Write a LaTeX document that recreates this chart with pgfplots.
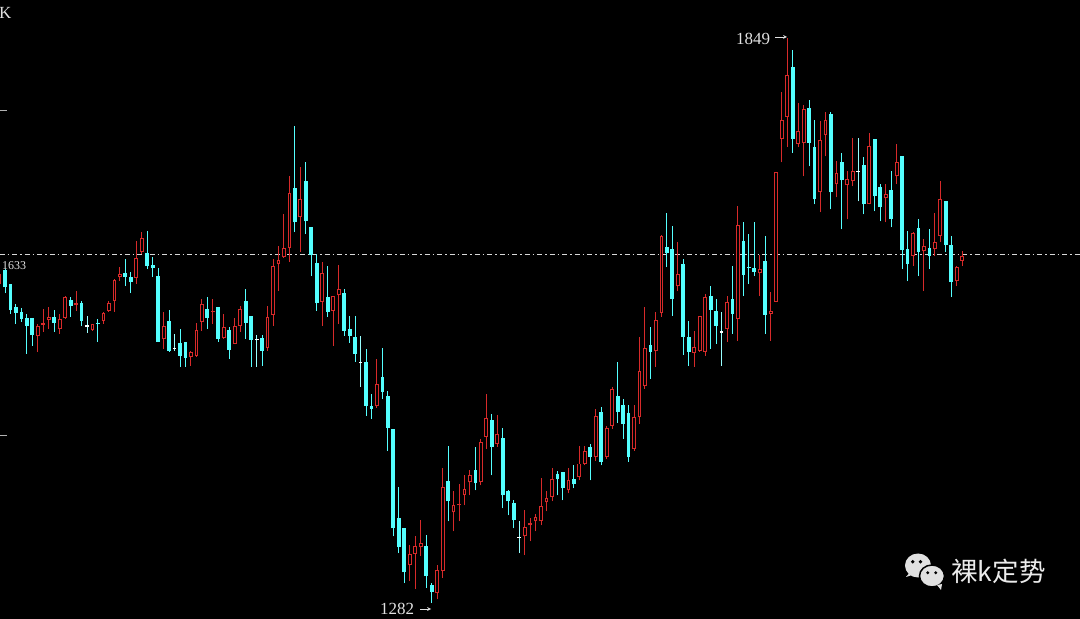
\documentclass[border=0pt]{standalone}
\usepackage{fontspec}
\setmainfont{Liberation Serif}
\newfontfamily\cjk{Noto Sans CJK SC}
\usepackage{pgfplots}
\usepackage{pgfplotstable}
\pgfplotsset{compat=1.18}
\definecolor{kcyan}{RGB}{84,255,255}
\definecolor{kred}{RGB}{215,42,42}
\definecolor{ktext}{RGB}{225,225,225}
\pgfplotstableread{
i o h l c
-1 1602 1614 1600 1612
0 1616 1617 1593 1599
1 1602 1602 1572 1576
2 1579 1582 1562 1573
3 1574 1578 1564 1567
4 1568 1572 1532 1560
5 1568 1568 1540 1551
6 1550 1562 1534 1560
7 1561 1577 1554 1563
8 1566 1579 1557 1569
9 1569 1576 1554 1563
10 1557 1572 1552 1567
11 1568 1590 1567 1589
12 1586 1589 1569 1580
13 1581 1595 1575 1583
14 1583 1585 1560 1565
15 1560 1570 1553 1560
16 1556 1562 1555 1562
17 1563 1567 1544 1562
18 1565 1574 1562 1573
19 1575 1585 1574 1583
20 1585 1607 1574 1606
21 1609 1619 1605 1612
22 1613 1627 1600 1609
23 1609 1614 1593 1604
24 1608 1645 1602 1628
25 1634 1654 1632 1648
26 1633 1655 1617 1620
27 1621 1629 1609 1618
28 1610 1618 1544 1544
29 1547 1574 1537 1560
30 1565 1576 1534 1535
31 1537 1552 1535 1537
32 1543 1557 1519 1530
33 1544 1544 1519 1528
34 1529 1535 1520 1534
35 1530 1563 1529 1556
36 1564 1587 1555 1582
37 1577 1589 1557 1568
38 1574 1587 1562 1575
39 1579 1579 1544 1547
40 1548 1572 1547 1559
41 1556 1559 1527 1536
42 1542 1568 1542 1560
43 1560 1580 1554 1577
44 1585 1597 1547 1563
45 1570 1570 1519 1546
46 1546 1551 1519 1546
47 1548 1551 1520 1535
48 1538 1580 1535 1569
49 1571 1627 1560 1620
50 1622 1640 1595 1626
51 1629 1672 1628 1638
52 1638 1710 1624 1693
53 1698 1761 1654 1664
54 1669 1719 1634 1687
55 1705 1724 1652 1665
56 1659 1659 1610 1631
57 1623 1632 1575 1583
58 1584 1624 1560 1613
59 1589 1620 1569 1574
60 1575 1590 1540 1590
61 1591 1621 1562 1597
62 1593 1597 1550 1555
63 1557 1570 1543 1550
64 1549 1570 1524 1532
65 1523 1550 1499 1523
66 1524 1537 1470 1480
67 1480 1492 1467 1477
68 1480 1527 1478 1502
69 1509 1538 1487 1494
70 1490 1495 1435 1458
71 1457 1457 1349 1357
72 1367 1398 1332 1338
73 1357 1357 1302 1313
74 1320 1340 1304 1331
75 1331 1349 1296 1339
76 1338 1365 1329 1342
77 1339 1350 1297 1309
78 1300 1302 1282 1293
79 1292 1320 1286 1315
80 1314 1417 1307 1398
81 1404 1440 1364 1384
82 1373 1394 1354 1380
83 1380 1401 1364 1381
84 1390 1410 1380 1396
85 1403 1415 1390 1410
86 1415 1439 1395 1402
87 1403 1447 1400 1444
88 1449 1492 1437 1468
89 1466 1472 1410 1439
90 1442 1471 1439 1452
91 1448 1458 1377 1390
92 1394 1395 1370 1384
93 1382 1385 1357 1365
94 1348 1364 1332 1348
95 1349 1375 1330 1358
96 1360 1367 1344 1362
97 1364 1371 1354 1368
98 1364 1407 1360 1379
99 1383 1394 1374 1387
100 1388 1417 1384 1406
101 1411 1414 1390 1406
102 1413 1413 1385 1397
103 1395 1417 1392 1405
104 1406 1420 1397 1401
105 1408 1440 1405 1422
106 1422 1440 1420 1435
107 1439 1442 1405 1429
108 1429 1477 1425 1470
109 1474 1479 1420 1424
110 1429 1460 1427 1458
111 1460 1499 1457 1497
112 1490 1524 1463 1474
113 1481 1487 1447 1462
114 1473 1481 1424 1429
115 1437 1481 1435 1469
116 1469 1549 1462 1515
117 1500 1579 1497 1538
118 1541 1559 1507 1534
119 1535 1574 1519 1566
120 1573 1651 1569 1650
121 1639 1673 1619 1633
122 1637 1660 1570 1587
123 1600 1644 1595 1612
124 1622 1627 1531 1549
125 1549 1565 1520 1534
126 1533 1555 1519 1539
127 1535 1570 1534 1570
128 1534 1592 1530 1589
129 1590 1600 1537 1576
130 1575 1587 1542 1560
131 1554 1574 1520 1554
132 1557 1590 1544 1584
133 1587 1620 1552 1572
134 1567 1680 1545 1661
135 1645 1664 1590 1611
136 1619 1652 1602 1618
137 1618 1664 1610 1614
138 1613 1631 1590 1617
139 1625 1650 1552 1571
140 1572 1594 1545 1575
141 1584 1714 1584 1714
142 1748 1795 1724 1767
143 1770 1849 1740 1812
144 1820 1837 1734 1748
145 1743 1784 1740 1756
146 1744 1782 1710 1778
147 1779 1787 1720 1744
148 1740 1767 1682 1687
149 1694 1766 1674 1747
150 1752 1775 1730 1767
151 1773 1775 1677 1694
152 1702 1725 1689 1713
153 1724 1734 1657 1706
154 1701 1715 1667 1707
155 1705 1749 1700 1715
156 1715 1749 1685 1715
157 1721 1729 1672 1682
158 1682 1754 1682 1741
159 1748 1748 1675 1690
160 1699 1702 1665 1679
161 1688 1702 1664 1692
162 1696 1715 1659 1667
163 1710 1743 1702 1724
164 1730 1730 1617 1636
165 1637 1655 1605 1622
166 1630 1654 1620 1653
167 1658 1667 1610 1634
168 1635 1647 1595 1640
169 1638 1657 1617 1630
170 1637 1673 1630 1644
171 1650 1705 1644 1687
172 1685 1685 1634 1641
173 1641 1650 1589 1604
174 1605 1620 1600 1619
175 1625 1635 1620 1630
}\kdata

\pgfplotsset{
  candle/.style={forget plot, draw=none, mark=none},
}

\begin{document}
\begin{tikzpicture}
\useasboundingbox (0,0) rectangle (1080pt,619pt);
\begin{axis}[
  at={(0,0)}, anchor=south west,
  width=1080pt, height=619pt, scale only axis,
  xmin=-0.914, xmax=196.53, ymin=1266, ymax=1887,
  axis background/.style={fill=black},
  axis line style={draw=none},
  xtick=\empty,
  ytick={1450,1776}, yticklabels={}, ytick pos=left,
  tick align=inside, major tick length=7pt,
  tick style={draw=white!70!black, line width=1pt},
]
% reference line
\addplot[forget plot, white!85!black, line width=0.8pt,
  dash pattern=on 5pt off 3pt on 1.5pt off 3pt]
  coordinates {(-1,1632) (197,1632)};

% up candles (hollow red)
\addplot[candle, restrict expr to domain={\thisrow{c}-\thisrow{o}}{0.001:10000},
  error bars/.cd, y dir=plus, y explicit, error mark=none,
  error bar style={draw=kred, line width=1pt}]
  table[x=i, y=l, y error expr=\thisrow{h}-\thisrow{l}] {\kdata};
\addplot[candle, restrict expr to domain={\thisrow{c}-\thisrow{o}}{0.001:10000},
  error bars/.cd, y dir=plus, y explicit, error mark=none,
  error bar style={draw=kred, line width=3.8pt}]
  table[x=i, y=o, y error expr=\thisrow{c}-\thisrow{o}] {\kdata};
\addplot[candle, restrict expr to domain={\thisrow{c}-\thisrow{o}}{2.5:10000},
  error bars/.cd, y dir=plus, y explicit, error mark=none,
  error bar style={draw=black, line width=1.8pt}]
  table[x=i, y expr=\thisrow{o}+1, y error expr=\thisrow{c}-\thisrow{o}-2] {\kdata};

% down candles (filled cyan)
\addplot[candle, restrict expr to domain={\thisrow{c}-\thisrow{o}}{-10000:-0.001},
  error bars/.cd, y dir=plus, y explicit, error mark=none,
  error bar style={draw=kcyan, line width=1pt}]
  table[x=i, y=l, y error expr=\thisrow{h}-\thisrow{l}] {\kdata};
\addplot[candle, restrict expr to domain={\thisrow{c}-\thisrow{o}}{-10000:-0.001},
  error bars/.cd, y dir=plus, y explicit, error mark=none,
  error bar style={draw=kcyan, line width=3.8pt}]
  table[x=i, y=c, y error expr=\thisrow{o}-\thisrow{c}] {\kdata};

% doji
\addplot[candle, restrict expr to domain={\thisrow{c}-\thisrow{o}}{-0.001:0.001},
  error bars/.cd, y dir=plus, y explicit, error mark=none,
  error bar style={draw=kcyan!60!white, line width=1pt}]
  table[x=i, y=l, y error expr=\thisrow{h}-\thisrow{l}] {\kdata};
\addplot[candle, restrict expr to domain={\thisrow{c}-\thisrow{o}}{-0.001:0.001},
  error bars/.cd, y dir=plus, y explicit, error mark=none,
  error bar style={draw=white, line width=3.8pt}]
  table[x=i, y expr=\thisrow{o}-0.6, y error expr=1.2] {\kdata};
\end{axis}

% annotations (positions in px of the 1080x619 frame)
\node[anchor=base west, inner sep=0, text=ktext, font=\fontsize{17}{17}\selectfont] at (-1pt,600pt) {K};
\node[anchor=base west, inner sep=0, text=ktext, font=\fontsize{12}{12}\selectfont] at (2pt,349pt) {1633};
\node[anchor=base west, inner sep=0, text=ktext, font=\fontsize{17}{17}\selectfont] at (736pt,574pt) {1849};
\draw[ktext, line width=0.7pt, -stealth] (775pt,582pt) -- (787pt,582pt);
\node[anchor=base west, inner sep=0, text=ktext, font=\fontsize{17}{17}\selectfont] at (380pt,4pt) {1282};
\draw[ktext, line width=0.7pt, -stealth] (420pt,10pt) -- (431pt,10pt);

% logo
\begin{scope}
\fill[ktext] (918pt,53.5pt) ellipse (13pt and 12pt);
\fill[ktext] (906pt,42pt) -- (911pt,48pt) -- (915pt,45pt) -- cycle;
\fill[black] (912.7pt,57.3pt) circle (1.9pt);
\fill[black] (920.5pt,57.3pt) circle (1.9pt);
\filldraw[fill=ktext, draw=black, line width=1.5pt] (932pt,43pt) ellipse (12.5pt and 11pt);
\fill[ktext] (941pt,29pt) -- (937pt,34pt) -- (942pt,35pt) -- cycle;
\fill[black] (927.7pt,46.3pt) circle (1.6pt);
\fill[black] (935.7pt,46.3pt) circle (1.6pt);
\end{scope}
\node[anchor=center, inner sep=0, text=white!92!black, font=\cjk\fontsize{26.5}{26.5}\selectfont] at (998.5pt,48pt) {裸k定势};
\end{tikzpicture}
\end{document}
